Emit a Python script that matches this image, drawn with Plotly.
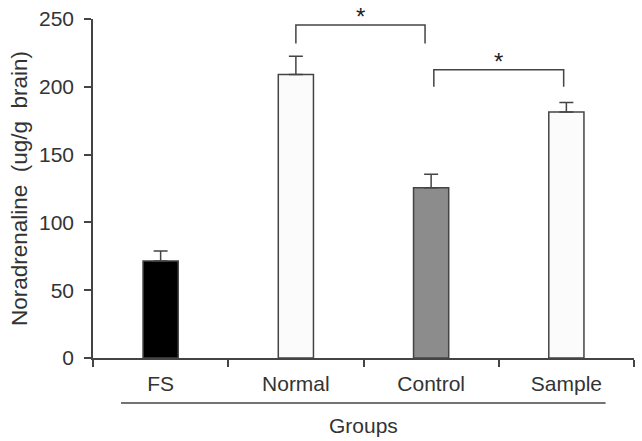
import plotly.graph_objects as go

groups = ["FS", "Normal", "Control", "Sample"]
means = [71.5, 209.0, 125.5, 181.5]
errors = [7.5, 13.5, 10.0, 7.0]
fills = ["#000000", "#fbfbfb", "#8c8c8c", "#fbfbfb"]
y_ticks = [0, 50, 100, 150, 200, 250]

FONT = "Liberation Sans, Arial, sans-serif"
TXT = "#333333"
LINE = "#444444"
FS_ = 21

fig = go.Figure()
fig.add_trace(go.Bar(
    x=groups, y=means, width=0.26,
    marker=dict(color=fills, line=dict(color=LINE, width=1.5)),
    error_y=dict(type="data", array=errors, arrayminus=[0]*4, symmetric=False,
                 color=LINE, thickness=1.5, width=7),
    showlegend=False,
))

# significance brackets
brackets = [(1.0, 1.955, 232, 245.5), (2.02, 2.98, 200, 212.5)]
for x0, x1, yb, yt in brackets:
    fig.add_shape(type="path",
                  path=f"M {x0},{yb} L {x0},{yt} L {x1},{yt} L {x1},{yb}",
                  xref="x", yref="y", line=dict(color=LINE, width=1.5))
    fig.add_annotation(x=(x0 + x1) / 2, y=yt, yref="y", text="*", showarrow=False,
                       yanchor="bottom", yshift=-7, font=dict(size=24, color="#222", family=FONT))

# Groups underline and label
fig.add_shape(type="line", xref="x", yref="paper", x0=-0.293, x1=3.29, y0=-0.133, y1=-0.133,
              line=dict(color=LINE, width=1.5))
fig.add_annotation(x=1.5, xref="x", y=-0.198, yref="paper", text="Groups", showarrow=False,
                   yanchor="middle", font=dict(size=FS_, color=TXT, family=FONT))

fig.update_layout(
    width=642, height=441,
    margin=dict(l=93, r=8, t=19, b=83),
    paper_bgcolor="white", plot_bgcolor="white",
    font=dict(family=FONT, size=FS_, color=TXT),
    bargap=0.74,
    xaxis=dict(range=[-0.5, 3.5], showline=True, linecolor=LINE, linewidth=1.5,
               ticks="outside", tickson="boundaries", ticklen=7, tickwidth=1.5, tickcolor=LINE,
               ticklabelstandoff=6,
               showgrid=False, zeroline=False, tickfont=dict(size=FS_, color=TXT)),
    yaxis=dict(range=[0, 250], tickvals=y_ticks, showline=True, linecolor=LINE, linewidth=1.5,
               ticks="outside", ticklen=7, tickwidth=1.5, tickcolor=LINE,
               ticklabelstandoff=6,
               showgrid=False, zeroline=False, tickfont=dict(size=FS_, color=TXT),
               title=dict(text="Noradrenaline&nbsp;&nbsp;(ug/g&nbsp;&nbsp;brain)",
                          font=dict(size=22.5, color=TXT), standoff=5)),
)

fig.write_html("out.html")
